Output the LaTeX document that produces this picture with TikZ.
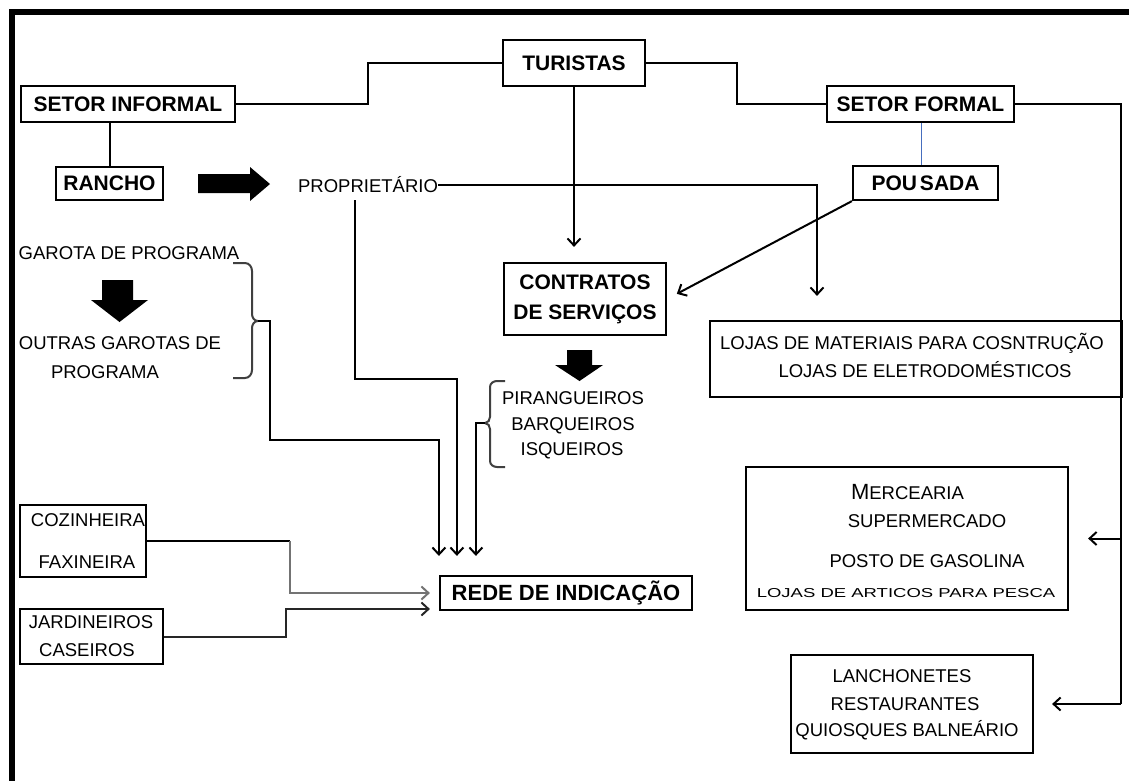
\documentclass[tikz,border=0pt]{standalone}
\usepackage{fontspec}
\usepackage{graphicx}
\setmainfont{Liberation Sans}
\usetikzlibrary{arrows.meta,calc}
\definecolor{linkblue}{RGB}{70,110,190}
\begin{document}
\begin{tikzpicture}[x=1pt,y=-1pt,
  reg/.style={font=\fontsize{18.5}{22}\selectfont, inner sep=0pt},
  bld/.style={font=\fontsize{21}{25}\selectfont\bfseries, inner sep=0pt},
  box/.style={draw, line width=2.2pt, inner sep=0pt},
  conn/.style={line width=2pt},
  arr/.style={conn,-{Straight Barb[length=7pt,width=13pt]}},
  bracestyle/.style={line width=2pt, black!75},
  blockarrow/.style={fill=black, draw=none}]
\useasboundingbox (0,0) rectangle (1129,780);
\fill[white] (0,0) rectangle (1129,780);
% frame
\draw[line width=5.5pt] (12,800) -- (12,12) -- (1150,12);

% nodes
\node[box,bld,minimum width=142pt,minimum height=46pt] (tur) at (574,63) {TURISTAS};
\node[box,bld,minimum width=214pt,minimum height=36pt] (inf) at (128,104) {SETOR INFORMAL};
\node[box,bld,minimum width=187pt,minimum height=36pt] (form) at (920.5,104) {SETOR FORMAL};
\node[box,bld,minimum width=107pt,minimum height=33pt] (rancho) at (109.5,183.5) {RANCHO};
\node[box,bld,minimum width=145pt,minimum height=34pt] (pous) at (925.5,183) {POU\kern3ptSADA};
\node[reg] (prop) at (368,185) {PROPRIETÁRIO};
\node[box,font=\fontsize{21}{30}\selectfont\bfseries,align=center,minimum width=162pt,minimum height=72pt] (contr) at (585,299) {CONTRATOS\\DE SERVIÇOS};

\node[box,minimum width=412pt,minimum height=76pt] (lojas) at (916,359) {};
\node[reg] (loj1) at (912,343) {LOJAS DE MATERIAIS PARA COSNTRUÇÃO};
\node[reg] (loj2) at (925,370) {LOJAS DE ELETRODOMÉSTICOS};

\node[reg] (garota) at (129,253) {GAROTA DE PROGRAMA};
\node[reg] (outras1) at (120,343) {OUTRAS GAROTAS DE};
\node[reg] (outras2) at (105,372) {PROGRAMA};

\node[reg] (pir) at (573,398) {PIRANGUEIROS};
\node[reg] (barq) at (573,426) {BARQUEIROS};
\node[reg] (isq) at (572,451) {ISQUEIROS};

\node[box,font=\fontsize{22}{25}\selectfont\bfseries,minimum width=252pt,minimum height=34pt] (rede) at (566,593) {REDE DE INDICAÇÃO};

\node[box,minimum width=126pt,minimum height=72pt] (coz) at (83,541) {};
\node[reg] (cozt) at (88,520) {COZINHEIRA};
\node[reg] (faxt) at (87,562) {FAXINEIRA};

\node[box,minimum width=143pt,minimum height=55pt] (jard) at (91.5,636.5) {};
\node[reg] (jardt) at (91,622) {JARDINEIROS};
\node[reg] (caset) at (87,650) {CASEIROS};

\node[box,minimum width=322pt,minimum height=143pt] (merc) at (907,538.5) {};
\node[reg] (merct) at (907.5,492) {{\fontsize{22}{22}\selectfont M}ERCEARIA};
\node[reg] (supt) at (927,521) {SUPERMERCADO};
\node[reg] (post) at (927,561) {POSTO DE GASOLINA};
\node[reg] (pesct) at (906,593) {\scalebox{1}[0.7]{LOJAS DE ARTICOS PARA PESCA}};

\node[box,minimum width=242pt,minimum height=98pt] (lanch) at (912,704) {};
\node[reg] (lancht) at (902,676) {LANCHONETES};
\node[reg] (restt) at (905,704) {RESTAURANTES};
\node[reg] (quiot) at (907,730) {QUIOSQUES BALNEÁRIO};

% connectors top
\draw[conn] (inf.east) -- (368,104) |- (tur.west);
\draw[conn] (tur.east) -- (737,63) |- (form.west);
\coordinate (bus) at (1121,104);
\draw[conn] (form.east) -- (bus) -- (bus |- lanch.east);
\draw[arr,shorten >=19pt] (bus |- merc.east) -- (merc.east);
\draw[arr,shorten >=18pt] (bus |- lanch.east) -- (lanch.east);
\draw[conn] (rancho.north) -- (rancho.north |- inf.south);
\draw[linkblue,line width=1.5pt] ([xshift=-4pt]pous.north) -- ([xshift=-4pt]pous.north |- form.south);

% block arrows
\fill[blockarrow] (198,174) -- (250,174) -- (250,167) -- (270,184) -- (250,201) -- (250,193) -- (198,193) -- cycle;
\fill[blockarrow] (567,350) -- (592,350) -- (592,365) -- (603,365) -- (579.5,381) -- (555,365) -- (567,365) -- cycle;
\fill[blockarrow] (102,280) -- (133,280) -- (133,300) -- (148,300) -- (119.5,322) -- (91,300) -- (102,300) -- cycle;

% proprietario
\draw[arr,shorten >=24pt] (prop.east) -| ([xshift=-99pt]lojas.north);
\draw[arr,shorten >=19pt] ([xshift=-13pt,yshift=-7pt]prop.south) |- (400,379) -| ([xshift=18pt]rede.north west);

% turistas -> contratos, pousada -> contratos
\draw[arr,shorten >=15pt] (tur.south) -- (tur.south |- contr.north);
\draw[arr,shorten >=11pt] (pous.south west) -- (contr.east);

% braces
\draw[bracestyle] (233,263) -- (245,263) to[out=0,in=90] (252,271) -- (252,314) to[out=-90,in=180] (258,321) to[out=180,in=90] (252,328) -- (252,370) to[out=-90,in=0] (245,378) -- (233,378);
\coordinate (gb) at (258,321);
\draw[arr,shorten >=19pt] (gb) -| (270,440) -| (rede.north west);

\draw[bracestyle] (505,381) -- (497,381) to[out=180,in=90] (490,387) -- (490,417) to[out=-90,in=0] (485,423) to[out=0,in=90] (490,429) -- (490,461) to[out=-90,in=180] (497,467) -- (505,467);
\coordinate (pb) at (485,423);
\draw[arr,shorten >=19pt] (pb) -| ([xshift=37pt]rede.north west);

% cozinheira / jardineiros -> rede
\coordinate (cz) at (290,541);
\draw[conn] (coz.east) -- (cz);
\draw[arr,black!55,shorten >=9pt] (cz) |- (rede.west);
\draw[arr,black!85,shorten >=9pt] (jard.east) -| (286,609) -- ([yshift=-16pt]rede.west);
\end{tikzpicture}
\end{document}
